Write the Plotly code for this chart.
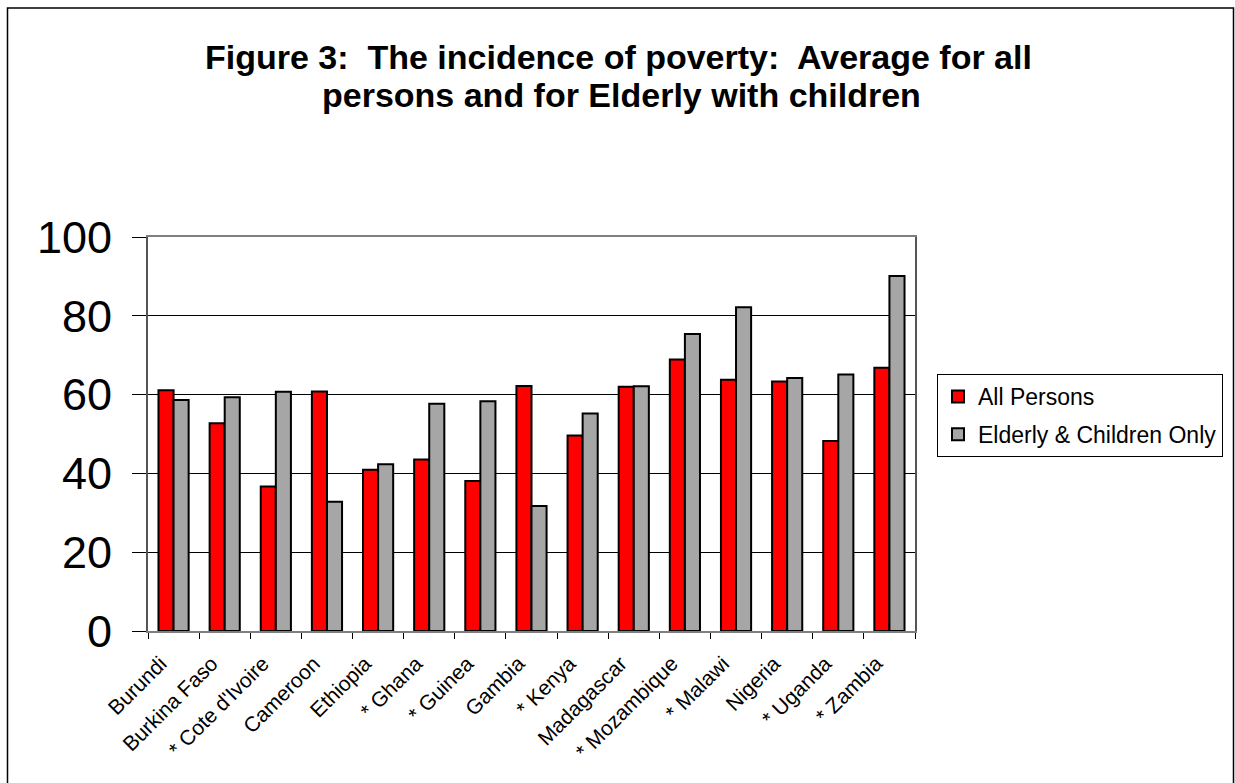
import plotly.graph_objects as go

countries = ["Burundi", "Burkina Faso", "* Cote d'Ivoire", "Cameroon", "Ethiopia",
             "* Ghana", "* Guinea", "Gambia", "* Kenya", "Madagascar",
             "* Mozambique", "* Malawi", "Nigeria", "* Uganda", "* Zambia"]
all_persons = [61.1, 52.7, 36.7, 60.8, 40.9, 43.5, 38.1, 62.2, 49.6, 62.0,
               68.9, 63.8, 63.3, 48.2, 66.8]
elderly_children = [58.6, 59.3, 60.7, 32.8, 42.3, 57.7, 58.3, 31.7, 55.2, 62.1,
                    75.4, 82.2, 64.2, 65.1, 90.1]
y_ticks = [0, 20, 40, 60, 80, 100]

FONT = "Liberation Sans, Arial, sans-serif"

W, H = 1235, 783
L, R, T, B = 148, 915, 237, 631


def px_x(p):
    return (p - L) / (R - L)


def px_y(p):
    return (B - p) / (B - T)


fig = go.Figure()
fig.add_trace(go.Bar(x=countries, y=all_persons, name="All Persons",
                     legendgroup="a",
                     marker=dict(color="#ff0000", line=dict(color="black", width=2))))
fig.add_trace(go.Bar(x=countries, y=elderly_children, name="Elderly & Children Only",
                     legendgroup="b",
                     marker=dict(color="#a6a6a6", line=dict(color="black", width=2))))

fig.update_layout(
    width=W, height=H,
    margin=dict(l=L, r=W - R, t=T, b=H - B, pad=0),
    paper_bgcolor="white", plot_bgcolor="white",
    font=dict(family=FONT, color="black"),
    barmode="group", bargap=0.41, bargroupgap=0.0,
    showlegend=True,
    legend=dict(x=px_x(937), y=px_y(374), xanchor="left", yanchor="top",
                bordercolor="black", borderwidth=1, bgcolor="white",
                font=dict(size=23, family=FONT), tracegroupgap=5,
                traceorder="grouped", itemwidth=30),
    xaxis=dict(tickangle=-45, tickfont=dict(size=21, family=FONT),
               ticks="outside", tickson="boundaries", ticklen=6,
               ticklabelstandoff=10, ticklabelshift=-13,
               tickcolor="black", showline=True, linecolor="#7f7f7f", linewidth=2,
               mirror=True, showgrid=False),
    yaxis=dict(range=[0, 100], tickvals=y_ticks, tickfont=dict(size=45, family=FONT),
               ticks="outside", ticklen=14, tickcolor="black",
               ticklabelstandoff=11,
               showline=True, linecolor="#555555", linewidth=2, mirror=True,
               showgrid=True, gridcolor="black", gridwidth=1, zeroline=False),
    shapes=[dict(type="rect", xref="paper", yref="paper",
                 x0=px_x(7.5), x1=px_x(1233.5), y0=px_y(820), y1=px_y(8),
                 line=dict(color="black", width=1.5), fillcolor="rgba(0,0,0,0)",
                 layer="below")],
    annotations=[
        dict(text="<b>Figure 3:  The incidence of poverty:  Average for all</b>",
             xref="paper", yref="paper", x=px_x(618), y=px_y(78),
             xanchor="center", yanchor="bottom", showarrow=False,
             font=dict(size=34, family=FONT)),
        dict(text="<b>persons and for Elderly with children</b>",
             xref="paper", yref="paper", x=px_x(621), y=px_y(116),
             xanchor="center", yanchor="bottom", showarrow=False,
             font=dict(size=34, family=FONT)),
    ],
)

fig.write_html(
    "out.html",
    config={"displayModeBar": False},
    post_script="document.body.style.margin='0px';document.body.style.overflow='hidden';",
)
